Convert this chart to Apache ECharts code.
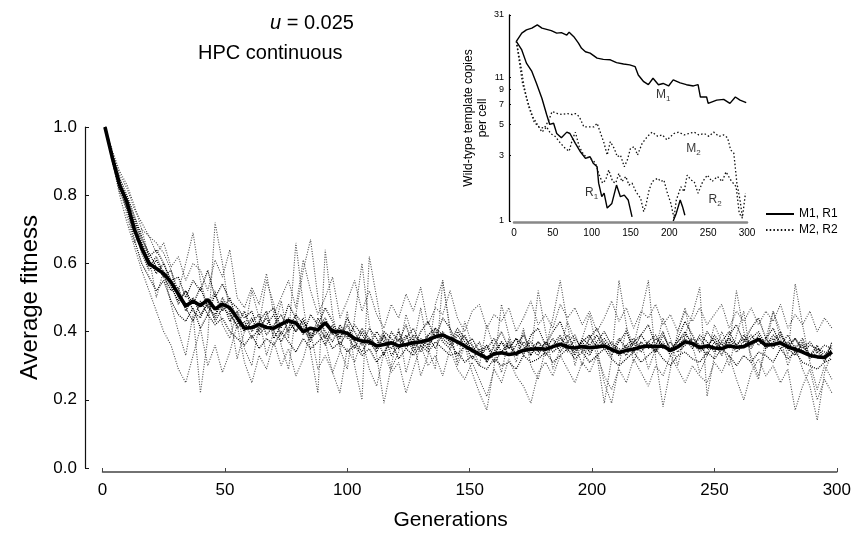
<!DOCTYPE html>
<html><head><meta charset="utf-8">
<script src="https://cdn.jsdelivr.net/npm/echarts@6/dist/echarts.min.js"></script>
<style>html,body{margin:0;padding:0;background:#fff}#c{width:854px;height:536px}</style>
</head><body><div id="c"></div>
<script>
// ---------- main panel data ----------
const generations = [1,4,7,10,13,16,19,22,25,28,31,34,37,40,43,46,49,52,55,58,61,64,67,70,73,76,79,82,85,88,91,94,97,100,103,106,109,112,115,118,121,124,127,130,133,136,139,142,145,148,151,154,157,160,163,166,169,172,175,178,181,184,187,190,193,196,199,202,205,208,211,214,217,220,223,226,229,232,235,238,241,244,247,250,253,256,259,262,265,268,271,274,277,280,283,286,289,292,295,298];
const meanFitness = [1.00,0.91,0.83,0.78,0.70,0.645,0.60,0.585,0.57,0.545,
0.51,0.475,0.49,0.476,0.494,0.466,0.48,0.47,0.44,0.41,
0.412,0.421,0.412,0.41,0.422,0.432,0.425,0.40,0.41,0.405,
0.426,0.40,0.40,0.395,0.38,0.372,0.37,0.358,0.362,0.367,
0.358,0.362,0.367,0.37,0.375,0.385,0.39,0.38,0.37,0.358,
0.345,0.333,0.322,0.335,0.338,0.333,0.336,0.345,0.348,0.35,
0.348,0.356,0.363,0.355,0.352,0.356,0.353,0.355,0.358,0.348,
0.338,0.345,0.348,0.355,0.358,0.356,0.358,0.345,0.355,0.37,
0.365,0.353,0.358,0.352,0.35,0.358,0.354,0.356,0.367,0.377,
0.36,0.362,0.367,0.355,0.348,0.34,0.33,0.326,0.324,0.34];
const runA = [1.00,0.92,0.85,0.80,0.74,0.68,0.62,0.64,0.60,0.55,
0.56,0.50,0.55,0.52,0.58,0.50,0.54,0.49,0.47,0.44,
0.46,0.40,0.45,0.47,0.41,0.48,0.44,0.39,0.45,0.42,
0.47,0.43,0.38,0.44,0.40,0.36,0.41,0.38,0.33,0.40,
0.37,0.42,0.35,0.40,0.43,0.38,0.44,0.41,0.36,0.39,
0.34,0.37,0.31,0.36,0.40,0.35,0.38,0.33,0.39,0.41,
0.36,0.40,0.43,0.37,0.39,0.34,0.38,0.41,0.36,0.33,
0.37,0.40,0.35,0.39,0.42,0.36,0.40,0.34,0.38,0.43,
0.39,0.35,0.40,0.37,0.33,0.39,0.42,0.37,0.41,0.44,
0.38,0.41,0.36,0.39,0.35,0.38,0.33,0.36,0.31,0.37];
const runB = [1.00,0.90,0.81,0.76,0.67,0.60,0.56,0.52,0.55,0.49,
0.45,0.43,0.47,0.41,0.45,0.42,0.44,0.40,0.38,0.36,
0.39,0.35,0.38,0.36,0.40,0.37,0.34,0.38,0.35,0.37,
0.39,0.35,0.37,0.34,0.36,0.33,0.35,0.31,0.34,0.37,
0.32,0.35,0.33,0.36,0.34,0.37,0.35,0.33,0.34,0.31,
0.33,0.30,0.29,0.32,0.30,0.31,0.29,0.33,0.31,0.32,
0.34,0.31,0.33,0.35,0.32,0.34,0.31,0.33,0.35,0.32,
0.30,0.32,0.34,0.31,0.33,0.35,0.32,0.30,0.33,0.34,
0.32,0.31,0.34,0.32,0.35,0.33,0.30,0.33,0.31,0.34,
0.33,0.31,0.35,0.32,0.34,0.31,0.30,0.29,0.31,0.32];
const runC = [1.00,0.91,0.84,0.78,0.71,0.63,0.58,0.61,0.56,0.58,
0.50,0.47,0.43,0.49,0.45,0.51,0.46,0.50,0.43,0.40,
0.43,0.45,0.39,0.42,0.45,0.40,0.43,0.41,0.37,0.44,
0.40,0.37,0.42,0.39,0.35,0.40,0.37,0.34,0.39,0.36,
0.40,0.35,0.38,0.34,0.39,0.41,0.37,0.35,0.39,0.36,
0.38,0.34,0.36,0.33,0.37,0.35,0.38,0.36,0.33,0.37,
0.35,0.38,0.34,0.37,0.33,0.38,0.36,0.39,0.35,0.37,
0.34,0.36,0.38,0.35,0.37,0.34,0.39,0.35,0.37,0.40,
0.36,0.38,0.35,0.39,0.36,0.38,0.35,0.37,0.39,0.36,
0.38,0.35,0.39,0.36,0.38,0.34,0.36,0.35,0.33,0.36];
const runD = [1.00,0.92,0.82,0.77,0.72,0.66,0.61,0.57,0.60,0.54,
0.48,0.52,0.46,0.44,0.49,0.43,0.47,0.45,0.42,0.46,
0.40,0.43,0.46,0.38,0.42,0.44,0.40,0.43,0.39,0.41,
0.44,0.39,0.41,0.38,0.42,0.39,0.36,0.40,0.37,0.35,
0.38,0.36,0.39,0.37,0.35,0.40,0.38,0.36,0.40,0.37,
0.35,0.33,0.36,0.31,0.34,0.37,0.33,0.35,0.37,0.34,
0.37,0.34,0.36,0.39,0.35,0.37,0.34,0.36,0.38,0.35,
0.33,0.36,0.34,0.37,0.35,0.38,0.36,0.34,0.37,0.39,
0.37,0.34,0.36,0.38,0.35,0.37,0.34,0.36,0.38,0.40,
0.36,0.38,0.35,0.37,0.34,0.36,0.33,0.35,0.34,0.33];
const runI = [1.00,0.91,0.83,0.79,0.73,0.67,0.63,0.59,0.56,0.52,
0.53,0.46,0.50,0.45,0.48,0.44,0.50,0.46,0.41,0.43,
0.38,0.41,0.44,0.40,0.37,0.41,0.45,0.42,0.38,0.40,
0.36,0.41,0.38,0.42,0.37,0.34,0.38,0.35,0.39,0.33,
0.36,0.39,0.34,0.38,0.36,0.41,0.39,0.37,0.33,0.36,
0.32,0.35,0.31,0.34,0.37,0.33,0.36,0.39,0.35,0.37,
0.33,0.36,0.39,0.34,0.38,0.35,0.33,0.37,0.40,0.36,
0.35,0.33,0.37,0.39,0.36,0.34,0.37,0.33,0.36,0.38,
0.35,0.39,0.37,0.34,0.37,0.40,0.36,0.38,0.35,0.39,
0.35,0.37,0.40,0.35,0.33,0.37,0.32,0.34,0.36,0.35];
const runJ = [1.00,0.92,0.84,0.76,0.69,0.64,0.59,0.62,0.57,0.53,
0.49,0.52,0.48,0.53,0.47,0.45,0.49,0.43,0.46,0.41,
0.44,0.39,0.42,0.45,0.39,0.43,0.40,0.44,0.38,0.42,
0.38,0.42,0.36,0.40,0.37,0.41,0.38,0.36,0.40,0.38,
0.35,0.38,0.41,0.36,0.39,0.35,0.40,0.37,0.41,0.38,
0.36,0.33,0.35,0.38,0.34,0.36,0.33,0.37,0.35,0.33,
0.37,0.35,0.38,0.36,0.34,0.37,0.39,0.35,0.37,0.34,
0.38,0.35,0.37,0.34,0.37,0.39,0.35,0.37,0.34,0.36,
0.38,0.36,0.33,0.37,0.35,0.38,0.36,0.39,0.36,0.38,
0.36,0.39,0.37,0.35,0.38,0.35,0.37,0.34,0.32,0.35];
const runE = [1.00,0.93,0.86,0.82,0.76,0.72,0.68,0.66,0.63,0.58,
0.52,0.60,0.69,0.55,0.47,0.52,0.42,0.38,0.46,0.35,
0.30,0.42,0.55,0.48,0.36,0.29,0.45,0.58,0.67,0.50,
0.37,0.28,0.34,0.46,0.30,0.20,0.62,0.50,0.38,0.29,
0.34,0.45,0.38,0.27,0.33,0.48,0.55,0.41,0.30,0.36,
0.28,0.22,0.17,0.30,0.48,0.39,0.33,0.41,0.30,0.26,
0.35,0.44,0.55,0.42,0.30,0.38,0.45,0.35,0.25,0.19,
0.30,0.41,0.36,0.45,0.55,0.32,0.18,0.29,0.40,0.47,
0.36,0.28,0.33,0.42,0.37,0.30,0.39,0.46,0.31,0.26,
0.38,0.46,0.40,0.33,0.54,0.42,0.31,0.23,0.30,0.26];
const runF = [1.00,0.91,0.84,0.74,0.66,0.70,0.62,0.50,0.58,0.48,
0.40,0.33,0.45,0.22,0.38,0.72,0.60,0.45,0.32,0.40,
0.52,0.44,0.33,0.40,0.49,0.38,0.66,0.48,0.34,0.22,
0.64,0.45,0.35,0.29,0.44,0.60,0.42,0.33,0.19,0.30,
0.41,0.28,0.36,0.47,0.35,0.29,0.55,0.40,0.31,0.43,
0.36,0.30,0.42,0.35,0.28,0.38,0.31,0.40,0.33,0.52,
0.40,0.29,0.35,0.43,0.37,0.30,0.39,0.33,0.19,0.32,
0.55,0.42,0.31,0.37,0.29,0.35,0.44,0.38,0.30,0.39,
0.45,0.53,0.21,0.33,0.40,0.35,0.52,0.40,0.33,0.27,
0.35,0.46,0.38,0.30,0.36,0.29,0.24,0.14,0.28,0.34];
const runG = [1.00,0.90,0.80,0.72,0.65,0.58,0.52,0.46,0.40,0.36,
0.29,0.25,0.33,0.41,0.30,0.36,0.28,0.34,0.42,0.31,
0.25,0.33,0.29,0.37,0.30,0.35,0.27,0.32,0.40,0.29,
0.33,0.28,0.22,0.35,0.31,0.38,0.29,0.24,0.34,0.28,
0.31,0.22,0.29,0.36,0.30,0.33,0.27,0.35,0.29,0.26,
0.31,0.26,0.21,0.29,0.25,0.32,0.27,0.24,0.19,0.28,
0.31,0.27,0.33,0.29,0.25,0.31,0.28,0.33,0.27,0.23,
0.29,0.25,0.32,0.28,0.24,0.30,0.27,0.33,0.29,0.25,
0.30,0.27,0.25,0.31,0.28,0.33,0.26,0.20,0.28,0.32,
0.27,0.30,0.25,0.29,0.17,0.24,0.29,0.20,0.26,0.22];
const runH = [1.00,0.93,0.87,0.83,0.77,0.70,0.68,0.63,0.66,0.59,
0.62,0.55,0.60,0.58,0.52,0.61,0.56,0.64,0.50,0.47,
0.53,0.48,0.57,0.45,0.50,0.55,0.47,0.61,0.52,0.45,
0.50,0.56,0.44,0.49,0.55,0.46,0.52,0.45,0.41,0.48,
0.44,0.51,0.46,0.53,0.42,0.47,0.45,0.52,0.44,0.40,
0.46,0.48,0.41,0.45,0.43,0.47,0.40,0.44,0.49,0.42,
0.45,0.41,0.48,0.44,0.47,0.42,0.46,0.40,0.44,0.49,
0.43,0.47,0.41,0.46,0.44,0.48,0.42,0.45,0.40,0.46,
0.43,0.47,0.42,0.45,0.48,0.41,0.46,0.43,0.47,0.42,
0.46,0.43,0.48,0.41,0.45,0.42,0.46,0.40,0.44,0.41];
const darkRuns = [runA, runB, runC, runD, runI, runJ];
const lightRuns = [runE, runF, runG, runH];
const mainYTicks = [0, 0.2, 0.4, 0.6, 0.8, 1.0];
const mainXTicks = [0, 50, 100, 150, 200, 250, 300];

// ---------- inset data (wild-type template copies per cell) ----------
const m1Gen = [3,10,16,23,30,36,42,48,55,61,68,71,77,83,87,92,98,107,115,124,132,141,149,156,160,167,173,179,186,192,199,205,214,222,231,237,240,248,250,261,270,278,285,291,299];
const m1Val = [20,22.9,24.2,24.9,26.3,24.9,24.4,23.9,22.9,23.1,22.2,23.3,21.6,19.4,17.8,16.8,16.4,15.1,14.8,14.7,14,13.7,13.5,13.1,11.4,10.2,9.7,10.8,9.7,9.9,9.5,10.5,10,9.7,9.5,9.7,7.9,7.9,7.1,7.5,7.6,7.1,7.9,7.5,7.2];
const r1Gen = [3,10,16,23,29,36,42,46,51,55,61,68,72,79,85,92,98,102,107,109,113,116,120,126,132,137,142,147,152,180,205,209,214,217,220];
const r1Val = [20,17.3,13.9,12.1,9.9,7.7,5.9,5.0,5.1,4.3,4.0,4.4,4.3,3.65,3.2,2.84,2.92,2.62,2.47,1.88,1.5,1.59,1.24,1.34,1.82,1.5,1.54,1.42,1.07,null,1.0,1.14,1.42,1.27,1.1];
const m2Gen = [3,9,13,19,26,32,39,45,49,56,62,69,75,79,84,90,96,103,107,111,116,120,124,129,133,137,142,146,150,155,159,165,172,178,185,191,197,206,212,219,225,232,238,245,251,257,264,270,275,279,283,287,291,294];
const m2Val = [20,13.1,9.4,6.7,5.2,4.8,4.7,5.4,6.2,6.0,5.9,6.0,5.9,6.0,5.7,4.8,4.8,4.8,5.1,4.4,3.65,3.0,3.75,3.36,2.92,3.0,2.47,2.77,3.36,3.45,3.0,3.65,4.1,4.4,4.1,4.2,3.86,4.3,4.4,4.2,4.3,4.4,4.2,4.3,4.1,4.4,4.1,4.2,4.0,3.27,3.1,1.88,1.42,1.07];
const r2Gen = [3,11,17,24,30,36,42,47,53,60,66,71,75,79,84,90,94,101,105,109,114,118,122,127,131,135,139,144,148,152,157,163,167,170,174,178,185,189,193,197,202,206,209,215,219,223,228,232,237,243,249,255,262,268,273,279,286,290,294,298];
const r2Val = [20,9.9,7.5,5.7,5.0,4.4,4.8,4.3,4.1,3.65,3.36,3.2,3.86,4.4,3.45,3.0,2.92,2.77,2.62,2.21,1.88,1.98,2.34,1.93,1.88,2.21,1.93,2.1,1.82,1.88,1.63,1.46,1.17,1.31,1.68,1.93,2.04,1.93,1.98,1.63,1.34,1.05,1.42,1.77,1.63,2.15,1.98,1.93,1.59,1.93,2.15,1.93,2.1,1.93,2.27,1.98,1.77,1.14,1.05,1.59];
const insetYTicks = [1, 3, 5, 7, 9, 11, 31];
const insetXTicks = [0, 50, 100, 150, 200, 250, 300];
const insetCurveLabels = [['M','1',192,8.2],['M','2',231,3.36],['R','1',100,1.59],['R','2',259,1.42]];

// ---------- build ----------
const FONT = '"Liberation Sans", Arial, Helvetica, sans-serif';
const zip = (xs, ys) => xs.map((x, i) => [x, ys[i]]);
const chart = echarts.init(document.getElementById('c'), null, {renderer: 'canvas'});

const series = [];
lightRuns.forEach(r => series.push({
  type: 'line', xAxisIndex: 0, yAxisIndex: 0, data: zip(generations, r),
  symbol: 'none', silent: true, z: 2,
  lineStyle: {color: '#4a4a4a', width: 1.1, type: [1, 1.5]}
}));
darkRuns.forEach(r => series.push({
  type: 'line', xAxisIndex: 0, yAxisIndex: 0, data: zip(generations, r),
  symbol: 'none', silent: true, z: 3,
  lineStyle: {color: '#000', width: 1.2, type: [1, 1.2]}
}));
series.push({
  type: 'line', xAxisIndex: 0, yAxisIndex: 0, data: zip(generations, meanFitness),
  symbol: 'none', silent: true, z: 5,
  lineStyle: {color: '#000', width: 3.6}
});
const solidInset = {color: '#000', width: 1.4};
const dotInset = {color: '#111', width: 1.3, type: [1.5, 2.2]};
series.push({name: 'M1, R1', type: 'line', xAxisIndex: 1, yAxisIndex: 1, data: zip(m1Gen, m1Val), symbol: 'none', lineStyle: solidInset, itemStyle: {color: '#000'}, z: 6});
series.push({name: 'M1, R1', type: 'line', xAxisIndex: 1, yAxisIndex: 1, data: zip(r1Gen, r1Val), symbol: 'none', connectNulls: false, lineStyle: solidInset, itemStyle: {color: '#000'}, z: 6});
series.push({name: 'M2, R2', type: 'line', xAxisIndex: 1, yAxisIndex: 1, data: zip(m2Gen, m2Val), symbol: 'none', lineStyle: dotInset, itemStyle: {color: '#000'}, z: 6});
series.push({name: 'M2, R2', type: 'line', xAxisIndex: 1, yAxisIndex: 1, data: zip(r2Gen, r2Val), symbol: 'none', lineStyle: dotInset, itemStyle: {color: '#000'}, z: 6});
series.push({
  type: 'scatter', xAxisIndex: 1, yAxisIndex: 1, symbolSize: 0, silent: true, z: 7,
  data: insetCurveLabels.map(l => ({value: [l[2], l[3]], name: l[0] + l[1], sub: l[1], main: l[0]})),
  label: {show: true, position: 'inside',
    formatter: p => '{a|' + p.data.main + '}{b|' + p.data.sub + '}',
    rich: {a: {fontFamily: FONT, fontSize: 12, color: '#000'}, b: {fontFamily: FONT, fontSize: 8, color: '#000', verticalAlign: 'bottom', padding: [8, 0, 0, 0]}}}
});

const option = {
  animation: false,
  backgroundColor: '#fff',
  title: [
    {text: '{i|u} = 0.025', left: 265, top: 8, textStyle: {fontFamily: FONT, fontSize: 20, fontWeight: 'normal', color: '#000', rich: {i: {fontFamily: FONT, fontSize: 20, fontStyle: 'italic', color: '#000'}}}},
    {text: 'HPC continuous', left: 193, top: 38, textStyle: {fontFamily: FONT, fontSize: 20, fontWeight: 'normal', color: '#000'}}
  ],
  legend: {
    data: ['M1, R1', 'M2, R2'], orient: 'vertical', left: 760, top: 203, itemGap: 4,
    itemWidth: 28, itemHeight: 12, selectedMode: false,
    itemStyle: {opacity: 0},
    textStyle: {fontFamily: FONT, fontSize: 12, color: '#000'}
  },
  grid: [
    {left: 102.5, right: 16.5, top: 127, bottom: 67},
    {left: 514, right: 107, top: 15, bottom: 315}
  ],
  xAxis: [
    {type: 'value', gridIndex: 0, min: 0, max: 300, interval: 50, offset: 4,
     name: 'Generations', nameLocation: 'middle', nameGap: 38,
     nameTextStyle: {fontFamily: FONT, fontSize: 21, color: '#000', padding: [0, 38, 0, 0]},
     axisLine: {onZero: false, lineStyle: {color: '#444', width: 1.5}},
     axisTick: {inside: true, length: 4, lineStyle: {color: '#444'}, customValues: mainXTicks},
     axisLabel: {fontFamily: FONT, fontSize: 17, color: '#000', margin: 10, customValues: mainXTicks},
     splitLine: {show: false}},
    {type: 'value', gridIndex: 1, min: 0, max: 300, interval: 50, offset: 1,
     axisLine: {onZero: false, lineStyle: {color: '#888', width: 2.5}},
     axisTick: {show: false},
     axisLabel: {fontFamily: FONT, fontSize: 10, color: '#000', margin: 6, customValues: insetXTicks},
     splitLine: {show: false}}
  ],
  yAxis: [
    {type: 'value', gridIndex: 0, min: 0, max: 1, interval: 0.2, offset: 17.5,
     name: 'Average fitness', nameLocation: 'middle', nameGap: 42,
     nameTextStyle: {fontFamily: FONT, fontSize: 24, color: '#000'},
     axisLine: {show: true, onZero: false, lineStyle: {color: '#111', width: 1.2}},
     axisTick: {show: true, inside: true, length: 4, lineStyle: {color: '#111'}, customValues: mainYTicks},
     axisLabel: {fontFamily: FONT, fontSize: 17, color: '#000', margin: 8, formatter: v => v.toFixed(1), customValues: mainYTicks},
     splitLine: {show: false}},
    {type: 'log', gridIndex: 1, min: 1, max: 31, logBase: 10, offset: 5,
     name: 'Wild-type template copies\nper cell', nameLocation: 'middle', nameGap: 14,
     nameTextStyle: {fontFamily: FONT, fontSize: 12, color: '#000', lineHeight: 14},
     axisLine: {show: true, onZero: false, lineStyle: {color: '#000', width: 1.3}},
     axisTick: {show: true, inside: true, length: 2, customValues: insetYTicks},
     axisLabel: {fontFamily: FONT, fontSize: 9, color: '#000', margin: 5, customValues: insetYTicks},
     splitLine: {show: false}}
  ],
  series: series
};
chart.setOption(option);
</script>
</body></html>
